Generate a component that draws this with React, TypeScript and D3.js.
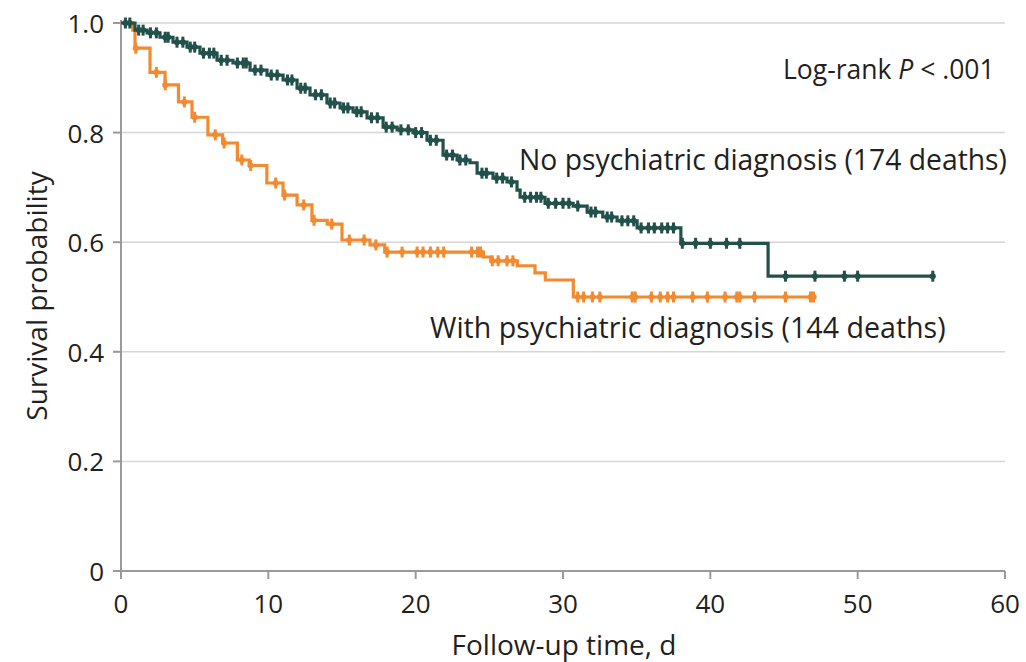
import React from "react";
import * as d3 from "d3";

// Step data: [time (days), survival after event]
const noPsychSteps: [number, number][] = [
  [0, 1.0], [0.95, 0.987], [1.77, 0.982], [2.65, 0.974], [3.53, 0.965], [4.48, 0.956],
  [5.36, 0.945], [6.52, 0.932], [7.6, 0.927], [8.76, 0.914], [9.91, 0.905], [11.0, 0.896],
  [11.95, 0.881], [12.83, 0.869], [13.98, 0.854], [14.87, 0.845], [15.75, 0.838], [16.7, 0.827],
  [17.79, 0.81], [18.74, 0.805], [19.82, 0.8], [20.77, 0.786], [21.86, 0.759], [22.81, 0.75],
  [23.69, 0.745], [24.17, 0.726], [25.25, 0.717], [26.2, 0.71], [26.88, 0.695], [27.09, 0.682],
  [28.78, 0.671], [30.69, 0.666], [31.64, 0.655], [32.7, 0.646], [33.67, 0.639], [35.03, 0.626],
  [38.0, 0.598], [43.92, 0.538],
];
const noPsychEnd = 55.1;
const noPsychCensor: number[] = [
  0.3, 0.6, 1.2, 1.5, 2.0, 2.4, 3.0, 3.2, 3.8, 4.2, 4.7, 5.0, 5.6, 6.0, 6.3, 6.8, 7.2, 7.9, 8.3,
  8.5, 9.1, 9.5, 10.2, 10.6, 11.3, 11.6, 12.2, 12.5, 13.2, 13.6, 14.2, 14.5, 15.1, 15.4, 16.0,
  16.3, 17.0, 17.4, 18.0, 18.4, 19.0, 19.5, 20.0, 20.4, 21.0, 21.4, 22.1, 22.5, 23.0, 23.4, 24.5,
  24.8, 25.5, 25.9, 26.5, 27.4, 27.8, 28.2, 28.5, 29.0, 29.5, 30.0, 30.4, 31.0, 31.9, 32.2, 33.0,
  33.3, 34.0, 34.4, 34.8, 35.3, 35.8, 36.2, 36.7, 37.1, 37.5, 38.1, 39.0, 40.0, 41.1, 42.0, 45.1,
  47.1, 49.1, 50.0, 55.1,
];

const psychSteps: [number, number][] = [
  [0, 1.0], [0.8, 0.987], [0.95, 0.954], [1.97, 0.91], [2.99, 0.887], [3.9, 0.856], [4.82, 0.828],
  [5.9, 0.796], [6.9, 0.781], [7.9, 0.75], [8.7, 0.74], [9.9, 0.708], [11.0, 0.686], [11.95, 0.668],
  [12.96, 0.64], [14.0, 0.633], [15.0, 0.604], [16.9, 0.595], [17.9, 0.582], [24.6, 0.573],
  [25.1, 0.566], [26.9, 0.557], [28.1, 0.544], [28.8, 0.531], [30.7, 0.5],
];
const psychEnd = 47.2;
const psychCensor: number[] = [
  1.0, 2.4, 3.0, 4.3, 5.0, 6.4, 7.0, 8.2, 8.8, 10.5, 11.1, 12.4, 13.1, 14.3, 15.5, 16.5, 17.3,
  18.06, 19.08, 20.1, 20.5, 21.0, 21.5, 21.9, 23.8, 24.2, 24.4, 25.2, 25.6, 26.2, 26.6, 31.0,
  31.4, 32.0, 32.5, 34.7, 34.9, 36.0, 36.6, 37.1, 37.5, 38.8, 39.8, 41.0, 41.8, 42.0, 43.0, 45.1,
  46.8, 47.0,
];

const xTicks = [0, 10, 20, 30, 40, 50, 60];
const yTicks = [0, 0.2, 0.4, 0.6, 0.8, 1.0];

const DARK = "#22504a";
const ORANGE = "#f28a30";
const FONT = "'Open Sans', 'Noto Sans', sans-serif";
const TXT = "#231f20";

function survAt(steps: [number, number][], t: number): number {
  let s = steps[0][1];
  for (const [ti, si] of steps) {
    if (ti <= t) s = si;
  }
  return s;
}

export default function App() {
  const x = d3.scaleLinear().domain([0, 60]).range([121, 1005]);
  const y = d3.scaleLinear().domain([0, 1]).range([571, 23]);

  const pathFor = (steps: [number, number][], end: number) => {
    const pts: [number, number][] = [...steps, [end, steps[steps.length - 1][1]]];
    const line = d3
      .line<[number, number]>()
      .x((d) => x(d[0]))
      .y((d) => y(d[1]))
      .curve(d3.curveStepAfter);
    return line(pts) || "";
  };

  const marks = (steps: [number, number][], times: number[], color: string) =>
    times.map((t, i) => {
      const cx = x(t);
      const cy = y(survAt(steps, t));
      return (
        <g key={i}>
          <line x1={cx} x2={cx} y1={cy - 5.5} y2={cy + 5.5} stroke={color} strokeWidth={3} />
          <circle cx={cx} cy={cy} r={3} fill={color} />
        </g>
      );
    });

  return (
    <svg
      width={1026}
      height={662}
      style={{ position: "absolute", left: 0, top: 0, background: "#fff" }}
      fontFamily={FONT}
    >
      <rect width={1026} height={662} fill="#fff" />
      {/* grid */}
      {yTicks.filter((v) => v > 0).map((v) => (
        <line key={v} x1={x(0)} x2={x(60)} y1={y(v)} y2={y(v)} stroke="#d6d6d6" strokeWidth={1.5} />
      ))}
      {/* axes */}
      <line x1={x(0)} x2={x(60)} y1={y(0)} y2={y(0)} stroke="#9a9a9a" strokeWidth={2} />
      <line x1={x(0)} x2={x(0)} y1={y(0)} y2={y(1) - 3} stroke="#9a9a9a" strokeWidth={2} />
      {yTicks.map((v) => (
        <g key={v}>
          <line x1={x(0) - 8} x2={x(0)} y1={y(v)} y2={y(v)} stroke="#9a9a9a" strokeWidth={2} />
          <text x={104} y={y(v) + 10} textAnchor="end" fontSize={26} fill={TXT}>
            {v === 0 ? "0" : v.toFixed(1)}
          </text>
        </g>
      ))}
      {xTicks.map((v) => (
        <g key={v}>
          <line x1={x(v)} x2={x(v)} y1={y(0)} y2={y(0) + 8} stroke="#9a9a9a" strokeWidth={2} />
          <text x={x(v)} y={613} textAnchor="middle" fontSize={26} fill={TXT}>
            {v}
          </text>
        </g>
      ))}
      <text x={564} y={655} textAnchor="middle" fontSize={28} fill={TXT}>
        Follow-up time, d
      </text>
      <text
        transform={`translate(47, ${296}) rotate(-90)`}
        textAnchor="middle"
        fontSize={28}
        fill={TXT}
      >
        Survival probability
      </text>

      {/* curves */}
      <path d={pathFor(psychSteps, psychEnd)} fill="none" stroke={ORANGE} strokeWidth={3.2} />
      {marks(psychSteps, psychCensor, ORANGE)}
      <path d={pathFor(noPsychSteps, noPsychEnd)} fill="none" stroke={DARK} strokeWidth={3.2} />
      {marks(noPsychSteps, noPsychCensor, DARK)}

      {/* annotations */}
      <text x={783} y={79} fontSize={26.5} fill={TXT}>
        Log-rank <tspan fontStyle="italic">P</tspan> &lt; .001
      </text>
      <text x={519} y={170} fontSize={28.3} fill={TXT}>
        No psychiatric diagnosis (174 deaths)
      </text>
      <text x={430} y={338} fontSize={28.6} fill={TXT}>
        With psychiatric diagnosis (144 deaths)
      </text>
    </svg>
  );
}
